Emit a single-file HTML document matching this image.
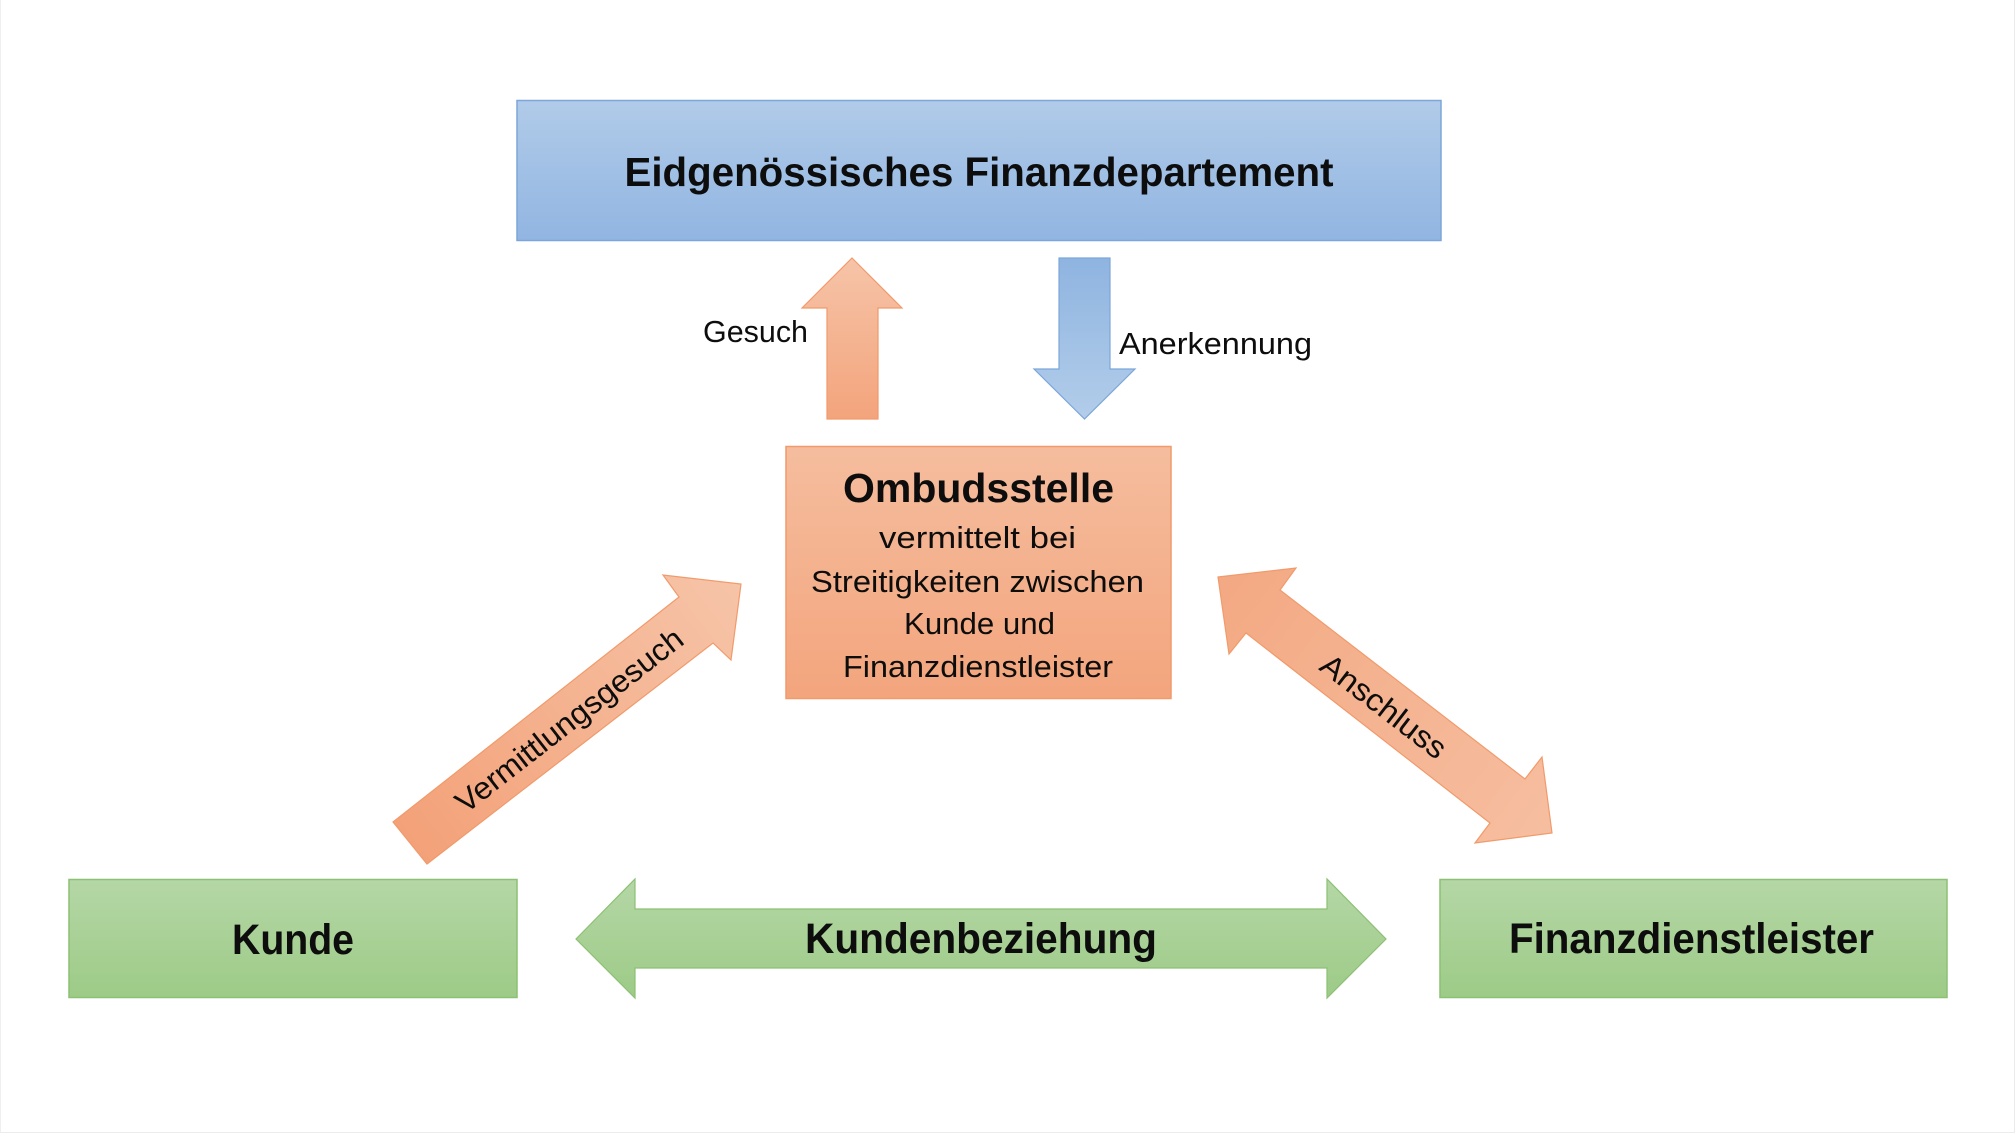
<!DOCTYPE html>
<html>
<head>
<meta charset="utf-8">
<style>
  html, body { margin: 0; padding: 0; background: #ffffff; }
  svg { display: block; }
  text { font-family: "Liberation Sans", "DejaVu Sans", sans-serif; fill: #0d0d0d; }
  .b { font-weight: bold; }
</style>
</head>
<body>
<svg width="2015" height="1133" viewBox="0 0 2015 1133" xmlns="http://www.w3.org/2000/svg">
  <defs>
    <linearGradient id="gBlue" x1="0" y1="0" x2="0" y2="1">
      <stop offset="0" stop-color="#b1cbe9"/>
      <stop offset="1" stop-color="#91b5e1"/>
    </linearGradient>
    <linearGradient id="gBlueArrow" x1="0" y1="0" x2="0" y2="1">
      <stop offset="0" stop-color="#8eb4e0"/>
      <stop offset="1" stop-color="#b3cdea"/>
    </linearGradient>
    <linearGradient id="gOrange" x1="0" y1="0" x2="0" y2="1">
      <stop offset="0" stop-color="#f5bd9e"/>
      <stop offset="1" stop-color="#f3a57d"/>
    </linearGradient>
    <linearGradient id="gOrangeUp" x1="0" y1="0" x2="0" y2="1">
      <stop offset="0" stop-color="#f6c4a8"/>
      <stop offset="1" stop-color="#f3a47c"/>
    </linearGradient>
    <linearGradient id="gVerm" gradientUnits="userSpaceOnUse" x1="410" y1="843" x2="741" y2="584">
      <stop offset="0" stop-color="#f3a178"/>
      <stop offset="1" stop-color="#f6c4a8"/>
    </linearGradient>
    <linearGradient id="gAnsch" gradientUnits="userSpaceOnUse" x1="1218" y1="577" x2="1552" y2="833">
      <stop offset="0" stop-color="#f3a983"/>
      <stop offset="1" stop-color="#f6bea0"/>
    </linearGradient>
    <linearGradient id="gGreen" x1="0" y1="0" x2="0" y2="1">
      <stop offset="0" stop-color="#b5d7a6"/>
      <stop offset="1" stop-color="#9dcb87"/>
    </linearGradient>
  </defs>

  <!-- faint frame -->
  <line x1="0.5" y1="0" x2="0.5" y2="1133" stroke="#efefef" stroke-width="1"/>
  <line x1="2014.5" y1="0" x2="2014.5" y2="1133" stroke="#ececec" stroke-width="1"/>
  <line x1="0" y1="1132.5" x2="2015" y2="1132.5" stroke="#ececec" stroke-width="1"/>

  <!-- Eidgenössisches Finanzdepartement -->
  <rect x="517" y="100.5" width="924" height="140" fill="url(#gBlue)" stroke="#7ca6d9" stroke-width="1.5"/>
  <text class="b" x="979" y="186" font-size="41" text-anchor="middle" textLength="709" lengthAdjust="spacingAndGlyphs">Eidgenössisches Finanzdepartement</text>

  <!-- Gesuch up arrow -->
  <polygon points="852,258 902,308 878,308 878,419 827,419 827,308 802,308" fill="url(#gOrangeUp)" stroke="#f19a6b" stroke-width="1.2"/>
  <text x="755.5" y="342" font-size="31" text-anchor="middle" textLength="105" lengthAdjust="spacingAndGlyphs">Gesuch</text>

  <!-- Anerkennung down arrow -->
  <polygon points="1059,258 1110,258 1110,369 1135,369 1084.5,419 1034,369 1059,369" fill="url(#gBlueArrow)" stroke="#7ca6d9" stroke-width="1.2"/>
  <text x="1215.5" y="354" font-size="31" text-anchor="middle" textLength="193" lengthAdjust="spacingAndGlyphs">Anerkennung</text>

  <!-- Ombudsstelle -->
  <rect x="786" y="446.5" width="385" height="252" fill="url(#gOrange)" stroke="#f19a6b" stroke-width="1.5"/>
  <text class="b" x="978.5" y="502" font-size="41" text-anchor="middle" textLength="271" lengthAdjust="spacingAndGlyphs">Ombudsstelle</text>
  <text x="977.5" y="548" font-size="31" text-anchor="middle" textLength="197" lengthAdjust="spacingAndGlyphs">vermittelt bei</text>
  <text x="977.5" y="592" font-size="31" text-anchor="middle" textLength="333" lengthAdjust="spacingAndGlyphs">Streitigkeiten zwischen</text>
  <text x="979.5" y="634" font-size="31" text-anchor="middle" textLength="151" lengthAdjust="spacingAndGlyphs">Kunde und</text>
  <text x="978" y="677" font-size="31" text-anchor="middle" textLength="270" lengthAdjust="spacingAndGlyphs">Finanzdienstleister</text>

  <!-- Vermittlungsgesuch arrow -->
  <polygon points="393,822 679,597 663,575 741,584 731,660 713,643 427,864" fill="url(#gVerm)" stroke="#f19a6b" stroke-width="1.2"/>
  <g transform="translate(569,720) rotate(-37.9)">
    <text x="0" y="11" font-size="31" text-anchor="middle" textLength="279" lengthAdjust="spacingAndGlyphs">Vermittlungsgesuch</text>
  </g>

  <!-- Anschluss double arrow -->
  <polygon points="1218,577 1296,568 1280,590 1525,779 1542,757 1552,833 1475,843 1490,823 1246,633 1229,654" fill="url(#gAnsch)" stroke="#f19a6b" stroke-width="1.2"/>
  <g transform="translate(1384,706) rotate(37.6)">
    <text x="0" y="11" font-size="31" text-anchor="middle" textLength="150" lengthAdjust="spacingAndGlyphs">Anschluss</text>
  </g>

  <!-- Kunde -->
  <rect x="69" y="879.5" width="448" height="118" fill="url(#gGreen)" stroke="#8cc073" stroke-width="1.5"/>
  <text class="b" x="293" y="954" font-size="43" text-anchor="middle" textLength="122" lengthAdjust="spacingAndGlyphs">Kunde</text>

  <!-- Kundenbeziehung double arrow -->
  <polygon points="576,939 635,879 635,909 1327,909 1327,879 1386,939 1327,998 1327,968 635,968 635,998" fill="url(#gGreen)" stroke="#8cc073" stroke-width="1.2"/>
  <text class="b" x="981" y="953" font-size="43" text-anchor="middle" textLength="352" lengthAdjust="spacingAndGlyphs">Kundenbeziehung</text>

  <!-- Finanzdienstleister -->
  <rect x="1440" y="879.5" width="507" height="118" fill="url(#gGreen)" stroke="#8cc073" stroke-width="1.5"/>
  <text class="b" x="1691.5" y="953" font-size="43" text-anchor="middle" textLength="365" lengthAdjust="spacingAndGlyphs">Finanzdienstleister</text>
</svg>
</body>
</html>
